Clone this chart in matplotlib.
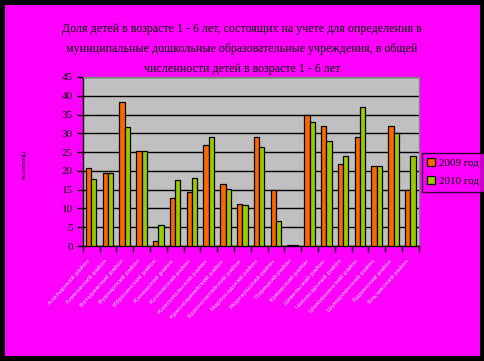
import matplotlib
matplotlib.use("Agg")
import matplotlib.pyplot as plt
from matplotlib.patches import Rectangle
import numpy as np

title = ("Доля детей в возрасте 1 - 6 лет, состоящих на учете для определения в\n"
         "муниципальные дошкольные образовательные учреждения, в общей\n"
         "численности детей в возрасте 1 - 6 лет")
categories = ["Алатырский район", "Аликовский район", "Батыревский район", "Вурнарский район",
              "Ибресинский район", "Канашский район", "Козловский район", "Комсомольский район",
              "Красноармейский район", "Красночетайский район", "Марпосадский район",
              "Моргаушский район", "Порецкий район", "Урмарский район", "Цивильский район",
              "Чебоксарский район", "Шемуршинский район", "Шумерлинский район",
              "Ядринский район", "Яльчикский район"]
series_names = ["2009 год", "2010 год"]
values_2009 = [20.7, 19.4, 38.3, 25.3, 1.2, 12.7, 14.3, 26.9, 16.5, 11.1,
               29.0, 14.8, 0.15, 34.8, 31.9, 21.8, 29.0, 21.2, 31.9, 14.8]
values_2010 = [17.8, 19.4, 31.7, 25.3, 5.5, 17.5, 18.1, 29.0, 15.1, 10.9,
               26.3, 6.6, 0.15, 33.0, 27.9, 23.9, 37.0, 21.2, 30.0, 23.9]
yticks = [0, 5, 10, 15, 20, 25, 30, 35, 40, 45]
ylabel = "Проценты"

W, H = 485, 361
fig = plt.figure(figsize=(W / 100, H / 100), dpi=100)
fig.patch.set_facecolor("black")
fig.add_artist(Rectangle((5 / W, 5 / H), 475 / W, 351 / H, transform=fig.transFigure,
                         facecolor="#FF00FF", edgecolor="none", zorder=0))

ax = fig.add_axes([82.7 / W, (H - 246) / H, 336 / W, 169 / H])
ax.set_facecolor("#C0C0C0")
x = np.arange(len(categories))
bw = 0.32
b1 = ax.bar(x - bw / 2, values_2009, bw, color="#FF6600", edgecolor="black", linewidth=0.9,
            zorder=3, label=series_names[0])
b2 = ax.bar(x + bw / 2, values_2010, bw, color="#99CC00", edgecolor="black", linewidth=0.9,
            zorder=3, label=series_names[1])
ax.set_xlim(-0.5, len(categories) - 0.5)
ax.set_ylim(0, 45)
ax.set_yticks(yticks)
ax.yaxis.grid(True, color="black", linewidth=1.0, zorder=1)
ax.set_axisbelow(True)
for s in ["top", "right"]:
    ax.spines[s].set_color("#808080")
    ax.spines[s].set_linewidth(1.0)
for s in ["left", "bottom"]:
    ax.spines[s].set_color("black")
    ax.spines[s].set_linewidth(1.0)
ax.tick_params(axis="y", direction="out", length=4, width=1, colors="black",
               labelsize=8, pad=3)
for lab in ax.get_yticklabels():
    lab.set_family("Liberation Serif")
ax.set_xticks(np.arange(len(categories) + 1) - 0.5)
ax.set_xticklabels([])
ax.tick_params(axis="x", direction="out", length=4, width=1, colors="black")
for i, c in enumerate(categories):
    ax.annotate(c, xy=(i, 0), xycoords=("data", "axes fraction"), xytext=(-3, -9),
                textcoords="offset points", rotation=48, ha="right", va="top",
                fontsize=4.3, color="#E0E0E0", family="DejaVu Sans", rotation_mode="anchor")

fig.text(242 / W, 1 - 49 / H, title, ha="center", va="center", fontsize=8.6,
         family="Liberation Serif", color="black", linespacing=1.85)
fig.text(22 / W, 1 - 166 / H, ylabel, ha="center", va="center", rotation=270,
         fontsize=4, color="black")

leg = fig.legend(handles=[b1, b2], labels=series_names, loc="upper left",
                 bbox_to_anchor=(421.7 / W, 1 - 152.7 / H), frameon=True, fancybox=False,
                 prop={"family": "Liberation Serif", "size": 8}, handlelength=0.7,
                 handleheight=0.7, handletextpad=0.4, borderpad=0.5, labelspacing=0.75,
                 borderaxespad=0)
leg.get_frame().set_facecolor("#FF00FF")
leg.get_frame().set_edgecolor("black")
leg.get_frame().set_linewidth(1.0)

fig.savefig("out.png", dpi=100, facecolor=fig.get_facecolor())
